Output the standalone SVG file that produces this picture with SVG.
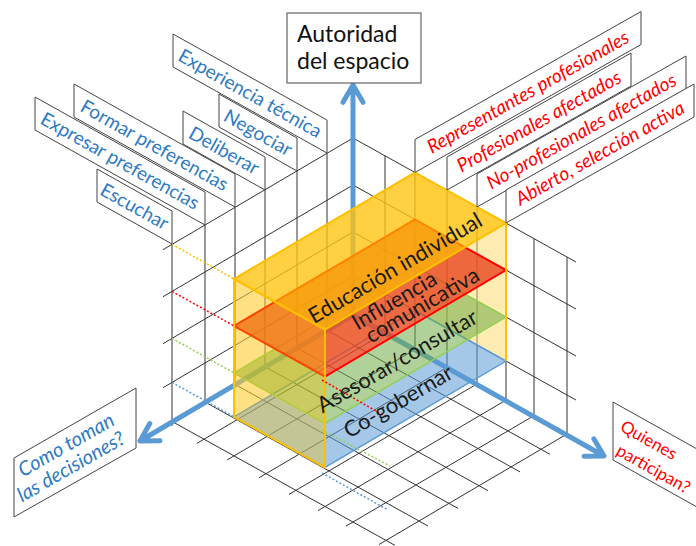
<svg xmlns="http://www.w3.org/2000/svg" width="696" height="546" viewBox="0 0 696 546">
<style>
.g{stroke:#333;stroke-width:1;fill:none}
.box{fill:#fff;stroke:#444;stroke-width:1}
.lb{font-family:Lato,"Liberation Sans",sans-serif;font-size:19px;fill:#2E7BC4}
.lr{font-family:Lato,"Liberation Sans",sans-serif;font-size:19px;fill:#FF0000;font-style:italic}
.ct{font-family:Lato,"Liberation Sans",sans-serif;font-size:22px;fill:#1a1a1a}
.ax{stroke:#5B9BD5;stroke-width:5;fill:none;stroke-linecap:round;stroke-linejoin:round}
.dot{stroke-width:1.5;stroke-dasharray:2 2;fill:none}
</style>
<rect width="696" height="546" fill="#fff"/>
<g id="grid" class="g">
<path d="M327 153.3V333M297 170.9V351M265 189.7V370M235 207.4V388M205 225V405M172 244.4V426"/>
<path d="M353 138L163 249.7M353 185L163 296.7M353 232L163 343.7M353 276L163 387.7"/>
<path d="M385 155.8V333M415 172.5V350M447 190.3V367.3M477 206.9V384M506 223.1V400M534 238.6V415.6M567 257V434"/>
<path d="M353 138L576 262M353 185L576 309M353 232L576 356M353 276L576 400"/>
<path d="M327 330.3L550 454.3M297 347.9L520 471.9M265 366.7L488 490.7M235 384.4L458 508.4M205 402L428 526M172 421.4L395 545.4"/>
<path d="M385 332.8L197 443.3M415 349.5L227 460M447 367.3L259 477.8M477 383.9L289 494.4M506 400.1L318 510.6M534 415.6L346 526.1M567 434L379 544.5"/>
</g>
<g id="axes" class="ax">
<path d="M353 315V86M343 102.3L353 85L363 102.3"/>
<path d="M353 315L140 441M149.8 423.6L140 441L160 440.8"/>
<path d="M353 315L604 456M593.8 438.8L604 456L584 456.2"/>
</g>
<g id="cube">
<polygon points="415,172.5 506,223.1 506,361.1 415,310.5" fill="#FFD966" fill-opacity="0.5"/>
<polygon points="415,172.5 234,278.9 234,416.9 415,310.5" fill="#FFD966" fill-opacity="0.35"/>
<polygon points="506,361.1 467.5,339.7 325,423.5 272.5,394.3 234,416.9 325,467.5" fill="#5B9BD5" fill-opacity="0.55"/>
<polygon points="415,310.5 506,361.1 325,467.5 234,416.9" fill="none" stroke="#5B9BD5" stroke-width="1.5"/>
<polygon points="506,317.1 464.9,294.3 325,376.5 275.1,348.8 234,372.9 325,423.5" fill="#70AD47" fill-opacity="0.55"/>
<polygon points="415,266.5 506,317.1 325,423.5 234,372.9" fill="none" stroke="#92D050" stroke-width="1.5"/>
<polygon points="415,219.5 506,270.1 325,376.5 234,325.9" fill="#E8441C" fill-opacity="0.78" stroke="#FF0000" stroke-width="2"/>
<polygon points="415,172.5 506,223.1 325,329.5 234,278.9" fill="#FFC000" fill-opacity="0.68" stroke="#FFC000" stroke-width="2"/>
<polygon points="234,278.9 325,329.5 325,467.5 234,416.9" fill="#FFC000" fill-opacity="0.35" stroke="#FFC000" stroke-width="2"/>
<path d="M506 223.1V361.1" stroke="#FFC000" stroke-width="2"/>
</g>
<g id="dotted">
<path class="dot" stroke="#FFC000" d="M172 244.4L234 278.9"/>
<path class="dot" stroke="#FF0000" d="M172 291.4L234 325.9M322 380L388 418"/>
<path class="dot" stroke="#92D050" d="M172 338.4L234 372.9M322 430L390 466"/>
<path class="dot" stroke="#5B9BD5" d="M172 382.4L234 416.9M322 473L388 510"/>
</g>
<g id="cube-labels" class="ct" text-anchor="middle">
<text transform="translate(395.5,268.5) rotate(-30.3)" y="7">Educación individual</text>
<text transform="translate(394.5,301) rotate(-30.3)" y="7">Influencia</text>
<text transform="translate(422.5,305.5) rotate(-30.3)" y="7">comunicativa</text>
<text transform="translate(397.5,361.5) rotate(-30.3)" y="7">Asesorar/consultar</text>
<text transform="translate(398.5,402) rotate(-30.3)" y="7">Co-gobernar</text>
</g>
<g id="left-labels">
<g id="lab-escuchar"><polygon class="box" points="97,202 172,244 172,211 97,169"/><text class="lb" text-anchor="middle" transform="translate(134.5,206.5) rotate(29.25)" y="6.5">Escuchar</text></g>
<g id="lab-expresar"><polygon class="box" points="35,130 205,225 205,192 35,97"/><text class="lb" text-anchor="middle" transform="translate(120,160.9) rotate(29.25)" y="6.5">Expresar preferencias</text></g>
<g id="lab-formar"><polygon class="box" points="74,117 235,207 235,174 74,84"/><text class="lb" text-anchor="middle" transform="translate(154.5,145.4) rotate(29.25)" y="6.5">Formar preferencias</text></g>
<g id="lab-deliberar"><polygon class="box" points="183,144 265,190 265,157 183,111"/><text class="lb" text-anchor="middle" transform="translate(224,150.5) rotate(29.25)" y="6.5">Deliberar</text></g>
<g id="lab-negociar"><polygon class="box" points="219,127 297,171 297,138 219,94"/><text class="lb" text-anchor="middle" transform="translate(258,132.7) rotate(29.25)" y="6.5">Negociar</text></g>
<g id="lab-experiencia"><polygon class="box" points="173,67 327,153 327,120 173,34"/><text class="lb" text-anchor="middle" transform="translate(250,93.4) rotate(29.25)" y="6.5">Experiencia técnica</text></g>
</g>
<g id="right-labels">
<g id="lab-representantes"><polygon class="box" points="415,172.5 641,44.5 641,11.5 415,139.5"/><text class="lr" text-anchor="middle" transform="translate(528,92) rotate(-29.5)" y="6.5">Representantes profesionales</text></g>
<g id="lab-profesionales"><polygon class="box" points="447,190 631,86 631,53 447,157"/><text class="lr" text-anchor="middle" transform="translate(539,121.4) rotate(-29.5)" y="6.5">Profesionales afectados</text></g>
<g id="lab-noprof"><polygon class="box" points="477,207 686,89 686,56 477,174"/><text class="lr" text-anchor="middle" transform="translate(581.5,131.4) rotate(-29.5)" y="6.5">No-profesionales afectados</text></g>
<g id="lab-abierto"><polygon class="box" points="506,223 694,117 694,84 506,190"/><text class="lr" text-anchor="middle" transform="translate(600,153.3) rotate(-29.5)" y="6.5">Abierto, selección activa</text></g>
</g>
<g id="title">
<rect class="box" x="287" y="13" width="134" height="70"/>
<text x="297" y="42" font-family="Lato,'Liberation Sans',sans-serif" font-size="23" fill="#111">Autoridad</text>
<text x="297" y="69" font-family="Lato,'Liberation Sans',sans-serif" font-size="23" fill="#111">del espacio</text>
</g>
<g id="como">
<polygon class="box" points="14,458 136,388 136,448 14,517"/>
<g font-family="Lato,'Liberation Sans',sans-serif" font-size="20" font-style="italic" fill="#2E7BC4">
<text transform="translate(23,477.6) rotate(-29.85)">Como toman</text>
<text transform="translate(22,502.5) rotate(-29.85)">las decisiones?</text>
</g>
</g>
<g id="quienes">
<polygon class="box" points="613,402 700,450.7 700,508.7 613,460"/>
<g font-family="Lato,'Liberation Sans',sans-serif" font-size="17" fill="#FF0000">
<text transform="translate(619,430) rotate(29.3)">Quienes</text>
<text transform="translate(615,454) rotate(29.3)">participan?</text>
</g>
</g>
</svg>
